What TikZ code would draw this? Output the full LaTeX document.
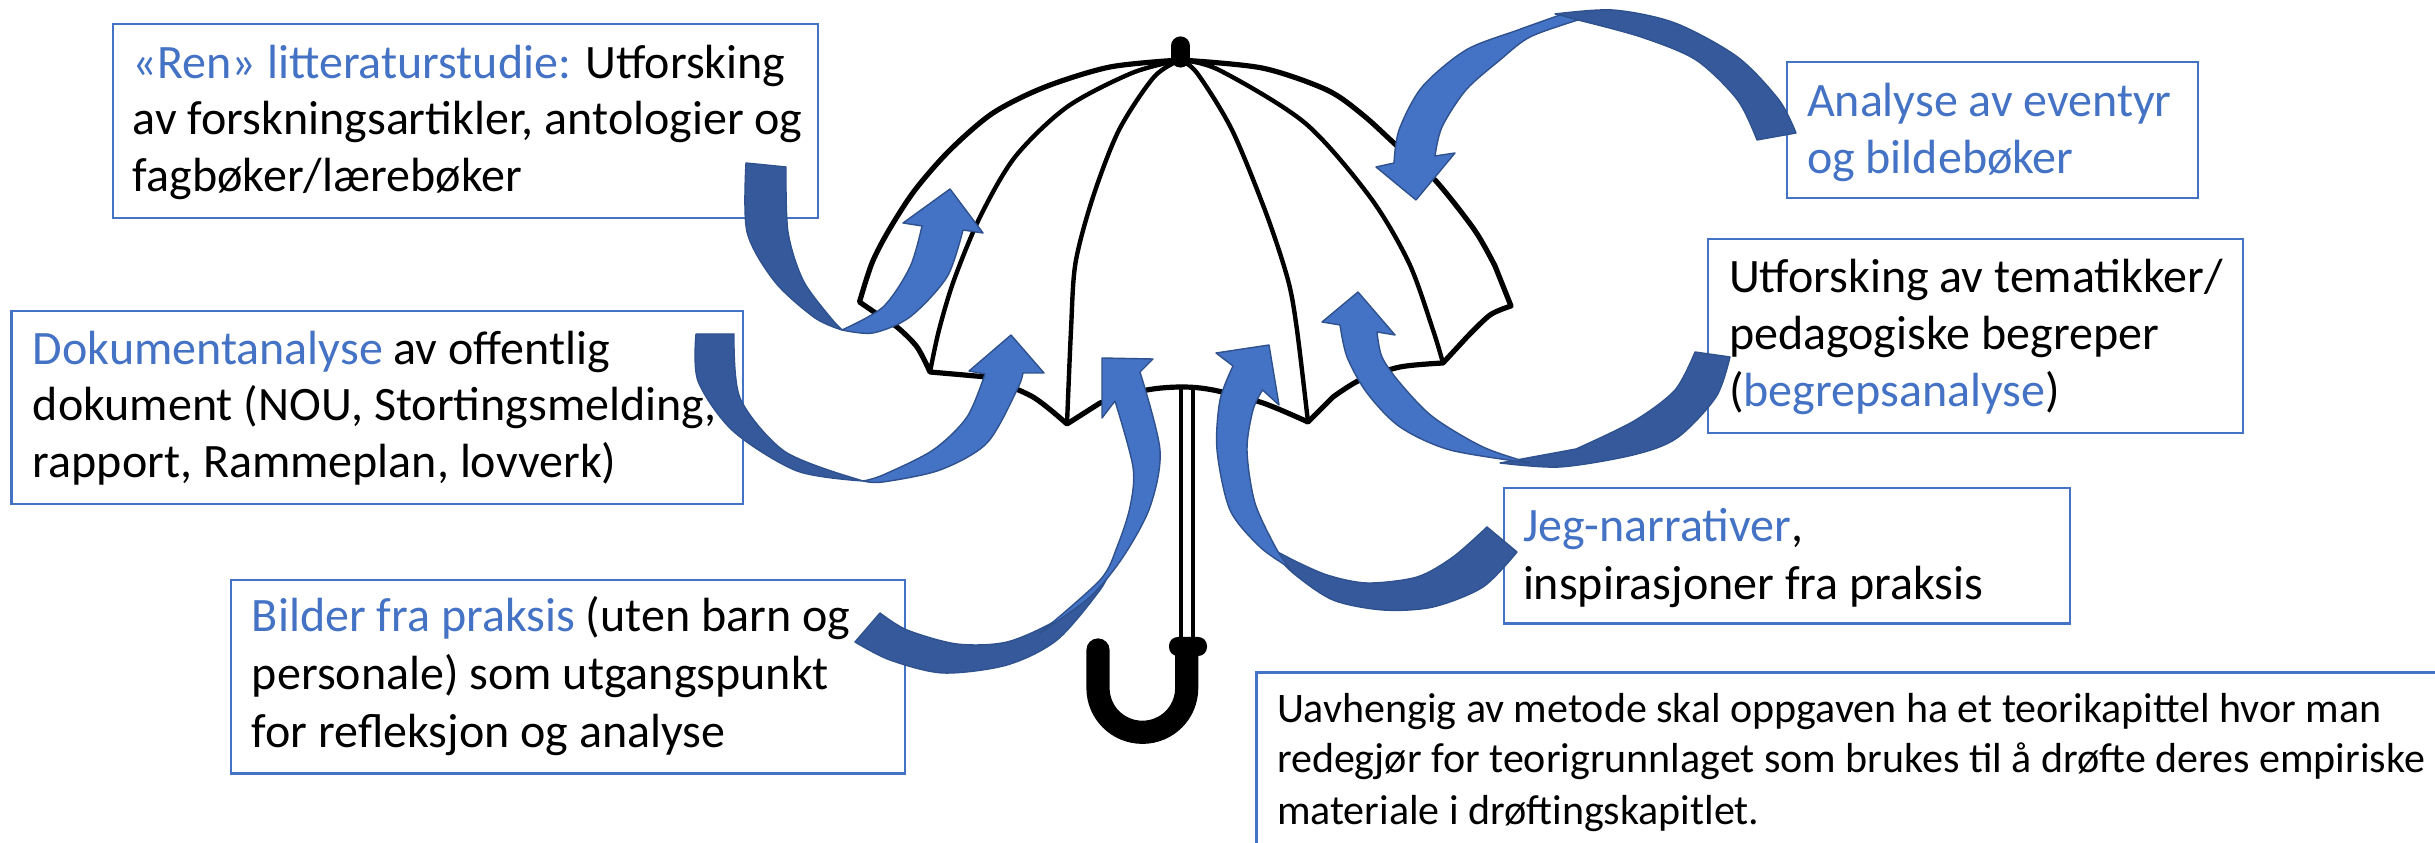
\documentclass[tikz,border=0pt]{standalone}
\usepackage{fontspec}
\setmainfont{Carlito}
\definecolor{oblue}{HTML}{4472C4}
\definecolor{odark}{HTML}{35599A}
\definecolor{oline}{HTML}{2F528F}
\newcommand{\bluetxt}[1]{\textcolor{oblue}{#1}}
\tikzset{
  box/.style={draw=oblue, line width=0.55pt, fill=white, inner sep=0pt, outer sep=0pt, anchor=north west},
  txt/.style={inner sep=0pt, outer sep=0pt, anchor=base west, font=\fontsize{12}{14}\selectfont},
  txtb/.style={inner sep=0pt, outer sep=0pt, anchor=base west, font=\fontsize{10.5}{12.5}\selectfont},
  lightpart/.style={fill=oblue, draw=oline, line width=0.35pt, line join=round},
  darkpart/.style={fill=odark, draw=oline, line width=0.35pt, line join=round},
  canopy/.style={fill=white, draw=black, line width=1.3pt, line join=round},
  rib/.style={draw=black, line width=1.1pt},
}
\begin{document}
\begin{tikzpicture}[x=0.25pt,y=-0.25pt]
\useasboundingbox (0,0) rectangle (2435,843);
\clip (0,0) rectangle (2435,843);
% boxes
\node[box, minimum width=176.25pt, minimum height=48.5pt] (b1) at (113,24) {};
\node[box, minimum width=182.9pt, minimum height=48.25pt] (b2) at (11.5,311) {};
\node[box, minimum width=168.6pt, minimum height=48.4pt] (b3) at (230.6,580) {};
\node[box, minimum width=102.75pt, minimum height=34pt] (b4) at (1786.7,62) {};
\node[box, minimum width=133.7pt, minimum height=48.5pt] (b5) at (1707.8,239) {};
\node[box, minimum width=141.4pt, minimum height=33.8pt] (b6) at (1504,488.4) {};
\node[box, minimum width=300pt, minimum height=50pt] (b7) at (1256.5,672.6) {};
% umbrella canopy
\filldraw[canopy]
  plot[smooth] coordinates {(1180,60) (1110,67) (1045,87) (993,113) (950,150) (915,190) (889,230) (872,263) (859.5,302)}
  -- plot[smooth] coordinates {(877,314) (897,327) (917,347) (930,372)}
  -- plot[smooth] coordinates {(987,377) (1033,397) (1067,424)}
  -- plot[smooth] coordinates {(1100,403) (1147,390) (1182,387) (1213,390) (1263,403) (1308,422)}
  -- plot[smooth] coordinates {(1333,397) (1360,380) (1400,367) (1443,363)}
  -- plot[smooth] coordinates {(1467,337) (1490,315) (1511,306)}
  -- plot[smooth] coordinates {(1495,266) (1474.5,230) (1435,180) (1396,145) (1363,115) (1327,90) (1262,68) (1180,60)}
  -- cycle;
\draw[rib] plot[smooth] coordinates {(1180,60) (1132,73) (1067,107) (1015,157) (980,217) (954,280) (939,330) (930,372)};
\draw[rib] plot[smooth] coordinates {(1180,60) (1154,77) (1119,130) (1093,197) (1075.5,263) (1071,330) (1067,424)};
\draw[rib] plot[smooth] coordinates {(1180,60) (1197,73) (1232,130) (1266,213) (1288,280) (1297,330) (1308,422)};
\draw[rib] plot[smooth] coordinates {(1180,60) (1219,70) (1305,123) (1370,197) (1409,263) (1433,330) (1443,363)};
% knob
\coordinate (k1) at (1180.5,46);
\coordinate (k2) at (1180.5,58);
\draw[line width=4.8pt, line cap=round] (k1) -- (k2);
% shaft
\coordinate (s1a) at (1181,388);
\coordinate (s1b) at (1181,640);
\coordinate (s2a) at (1193,388);
\coordinate (s2b) at (1193,640);
\draw[line width=1pt] (s1a) -- (s1b);
\draw[line width=1pt] (s2a) -- (s2b);
% handle
\draw[line width=5.8pt, line cap=round] (1098,650) -- (1098,688)
   .. controls (1098,712.5) and (1117.8,732.3) .. (1142.4,732.3)
   .. controls (1167,732.3) and (1186.7,712.5) .. (1186.7,688) -- (1186.7,650);
\fill[rounded corners=2.2pt] (1169,637) rectangle (1207,656);
% arrow A
\filldraw[darkpart] plot[smooth] coordinates {(746,163) (747,232) (775,282) (815,318) (842,330)}
  -- plot[smooth] coordinates {(836,324) (804,282) (788,232) (786,167)} -- cycle;
\filldraw[lightpart] plot[smooth] coordinates {(842,330) (873,333) (910,317) (947,277) (963,230)}
  -- (983,233) -- (950,189) -- (903,223)
  -- plot[smooth] coordinates {(922,226) (910,267) (883,307) (842,330)} -- cycle;
% arrow B
\filldraw[darkpart] plot[smooth] coordinates {(696,334) (698,381) (733,431) (797,471) (863,481)}
  -- plot[smooth] coordinates {(850,477) (784,451) (740,398) (734,334)} -- cycle;
\filldraw[lightpart] plot[smooth] coordinates {(863,481) (883,482) (940,470) (987,443) (1017,390) (1023,373)}
  -- (1044,373) -- (1011,335) -- (969,371)
  -- plot[smooth] coordinates {(985,374) (967,417) (933,450) (883,475) (863,481)} -- cycle;
% arrow C
\filldraw[darkpart] plot[smooth] coordinates {(855,642) (890,660) (943,673) (1007,665) (1057,640) (1100,590) (1112,566)}
  -- plot[smooth] coordinates {(1095,590) (1057,620) (1007,642) (957,644) (907,630) (880,613)} -- cycle;
\filldraw[lightpart] plot[smooth] coordinates {(1040,633) (1090,597) (1123,557) (1150,507) (1160,450) (1140,372)}
  -- (1153,359) -- (1102,358) -- (1102,418)
  -- plot[smooth] coordinates {(1115,401) (1133,467) (1130,507) (1117,547) (1100,580) (1040,633)} -- cycle;
% arrow D
\filldraw[darkpart] plot[smooth] coordinates {(1517,552) (1483,587) (1433,607) (1383,610) (1333,600) (1293,573) (1270,548)}
  -- plot[smooth] coordinates {(1293,560) (1327,575) (1367,583) (1417,577) (1453,557) (1487,527)} -- cycle;
\filldraw[lightpart] plot[smooth] coordinates {(1290,568) (1260,547) (1230,510) (1217,450) (1220,400) (1233,366)}
  -- (1216,353) -- (1269,345) -- (1279,405)
  -- plot[smooth] coordinates {(1262.5,390) (1253,410) (1247,450) (1255,503) (1277,550) (1290,568)} -- cycle;
% arrow E
\filldraw[darkpart] plot[smooth] coordinates {(1730,357) (1716,397) (1677,438) (1633,455) (1560,467) (1500,463)}
  -- plot[smooth] coordinates {(1576,449) (1634,421) (1675,390) (1695,352)} -- cycle;
\filldraw[lightpart] plot[smooth] coordinates {(1530,463) (1450,450) (1400,427) (1367,393) (1347,357) (1340,325)}
  -- (1322,322) -- (1358,292) -- (1395,335)
  -- plot[smooth] coordinates {(1377,332) (1382,357) (1400,383) (1433,417) (1483,447) (1530,463)} -- cycle;
% arrow F
\filldraw[darkpart] plot[smooth] coordinates {(1796,133) (1779,100) (1737.5,57) (1675,23) (1613,10) (1555,14)}
  -- plot[smooth] coordinates {(1578,20) (1641,37) (1696,60) (1737.5,100) (1757,140)} -- cycle;
\filldraw[lightpart] plot[smooth] coordinates {(1560,15) (1518,30) (1466,50) (1422,87) (1399,130) (1394,163)}
  -- (1376,167) -- (1416,200) -- (1455,153)
  -- plot[smooth] coordinates {(1435,156) (1442,127) (1466,90) (1500,60) (1530,37) (1578,20)} -- cycle;
% texts
\node[txt] (t1a) at (133,79) {\bluetxt{«Ren» litteraturstudie:} Utforsking};
\node[txt] (t1b) at (133,135) {av forskningsartikler, antologier og};
\node[txt] (t1c) at (133,192) {fagbøker/lærebøker};
\node[txt] (t2a) at (33,365) {\bluetxt{Dokumentanalyse} av offentlig};
\node[txt] (t2b) at (33,421) {dokument (NOU, Stortingsmelding,};
\node[txt] (t2c) at (33,478) {rapport, Rammeplan, lovverk)};
\node[txt] (t3a) at (252,632) {\bluetxt{Bilder fra praksis} (uten barn og};
\node[txt] (t3b) at (252,690) {personale) som utgangspunkt};
\node[txt] (t3c) at (252,748) {for refleksjon og analyse};
\node[txt] (t4a) at (1807,117) {\bluetxt{Analyse av eventyr}};
\node[txt] (t4b) at (1807,174) {\bluetxt{og bildebøker}};
\node[txt] (t5a) at (1729,293) {Utforsking av tematikker/};
\node[txt] (t5b) at (1729,350) {pedagogiske begreper};
\node[txt] (t5c) at (1729,407) {(\bluetxt{begrepsanalyse})};
\node[txt] (t6a) at (1523,542) {\bluetxt{Jeg-narrativer},};
\node[txt] (t6b) at (1523,600) {inspirasjoner fra praksis};
\node[txtb] (t7a) at (1277,723) {Uavhengig av metode skal oppgaven ha et teorikapittel hvor man};
\node[txtb] (t7b) at (1277,773) {redegjør for teorigrunnlaget som brukes til å drøfte deres empiriske};
\node[txtb] (t7c) at (1277,825) {materiale i drøftingskapitlet.};
\end{tikzpicture}
\end{document}
